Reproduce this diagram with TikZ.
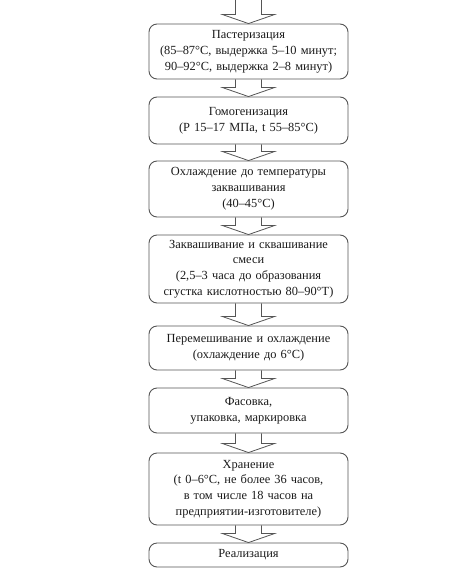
\documentclass[tikz,border=0pt]{standalone}
\usepackage{fontspec}
\setmainfont{Liberation Serif}
\usetikzlibrary{calc}
\definecolor{edge}{HTML}{555555}
\definecolor{ink}{HTML}{1A1A1A}
\tikzset{
  stage/.style={draw=edge, line width=0.9pt, rounded corners=8pt, minimum width=199pt,
    text width=192pt, align=center, inner sep=0pt, text=ink,
    font=\fontsize{12.4}{15.8}\selectfont},
  blockarr/.style={draw=edge, line width=0.8pt, line join=miter}
}
\newcommand{\blockarrow}[2]{%
  \draw[blockarr] let \p1=(#1), \p2=(#2.north) in
    (\x2-13pt,\y1) -- (\x2-13pt,\y2+9pt) -- (\x2-26pt,\y2+9pt) -- (\x2,\y2)
    -- (\x2+26pt,\y2+9pt) -- (\x2+13pt,\y2+9pt) -- (\x2+13pt,\y1);}
\begin{document}
\begin{tikzpicture}[x=1pt,y=-1pt]
\useasboundingbox (0,0) rectangle (474,581);
\coordinate (start) at (248.5,0);
\node[stage, minimum height=55pt] (s1) at (248.5,51.5) {Пастеризация\\(85–87°C, выдержка 5–10 минут;\\90–92°C, выдержка 2–8 минут)};
\node[stage, minimum height=47pt] (s2) at (248.5,120.5) {Гомогенизация\\(Р 15–17 МПа, t 55–85°C)};
\node[stage, minimum height=56pt] (s3) at (248.5,189) {Охлаждение до температуры\\заквашивания\\(40–45°C)};
\node[stage, minimum height=68pt] (s4) at (248.5,269) {Заквашивание и сквашивание\\смеси\\(2,5–3 часа до образования\\сгустка кислотностью 80–90°Т)};
\node[stage, minimum height=44pt] (s5) at (248.5,348) {Перемешивание и охлаждение\\(охлаждение до 6°С)};
\node[stage, minimum height=45pt] (s6) at (248.5,410.5) {Фасовка,\\упаковка, маркировка};
\node[stage, minimum height=72pt] (s7) at (248.5,489) {Хранение\\(t 0–6°C, не более 36 часов,\\в том числе 18 часов на\\предприятии-изготовителе)};
\node[stage, minimum height=24pt] (s8) at (248.5,555) {Реализация};
\blockarrow{start}{s1}
\blockarrow{s1.south}{s2}
\blockarrow{s2.south}{s3}
\blockarrow{s3.south}{s4}
\blockarrow{s4.south}{s5}
\blockarrow{s5.south}{s6}
\blockarrow{s6.south}{s7}
\blockarrow{s7.south}{s8}
\end{tikzpicture}
\end{document}
